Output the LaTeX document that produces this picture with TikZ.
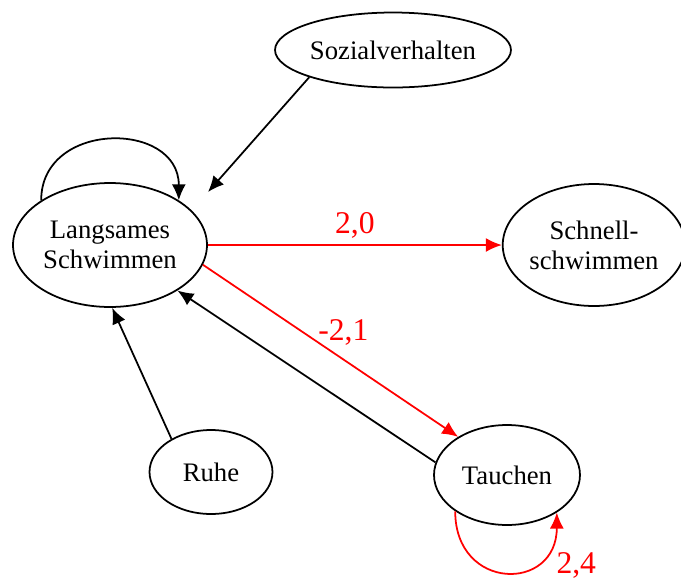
\documentclass[tikz,border=0pt]{standalone}
\usepackage{fontspec}
\setmainfont{Liberation Serif}
\usetikzlibrary{shapes.geometric,arrows.meta}

\begin{document}
\begin{tikzpicture}[x=0.02cm,y=-0.02cm,>={Latex[length=3.2mm,width=2.8mm]},line width=1pt,
        zustand/.style={draw,ellipse,inner sep=0pt,align=center,font=\fontsize{15.2}{17}\selectfont},
        wert/.style={red,font=\fontsize{18}{20}\selectfont}]
        \useasboundingbox (0,0) rectangle (681,583);
        \node[zustand,minimum width=4.72cm,minimum height=1.5cm] (sozial) at (393,50) {Sozialverhalten};
        \node[zustand,minimum width=3.88cm,minimum height=2.48cm] (lang) at (110,245) {Langsames\\Schwimmen};
        \node[zustand,minimum width=3.52cm,minimum height=2.44cm] (schnell) at (594,245) {Schnell-\\schwimmen};
        \node[zustand,minimum width=2.46cm,minimum height=1.68cm] (ruhe) at (211,472) {Ruhe};
        \node[zustand,minimum width=2.92cm,minimum height=2cm] (tauchen) at (507,475) {Tauchen};
        \coordinate (sozend) at (208,192);
        \draw[->] (sozial.198) -- (sozend);
        \draw[->] (lang.147) .. controls +(0,-80) and +(0,-80) .. (lang.33);
        \draw[->,red] (lang.east) -- node[wert,above] {2,0} (schnell.west);
        \draw[->,red] (lang.-12) -- node[wert,above,pos=0.55,yshift=4pt] {-2,1} (tauchen.142);
        \draw[->] (tauchen.170) -- (lang.-34);
        \draw[->] (ruhe.140) -- (lang.272);
        \draw[->,red] (tauchen.215) .. controls +(0,80) and +(0,80) .. node[wert,below right,pos=0.8,xshift=2pt,yshift=3pt] {2,4} (tauchen.323);
    \end{tikzpicture}
\end{document}
